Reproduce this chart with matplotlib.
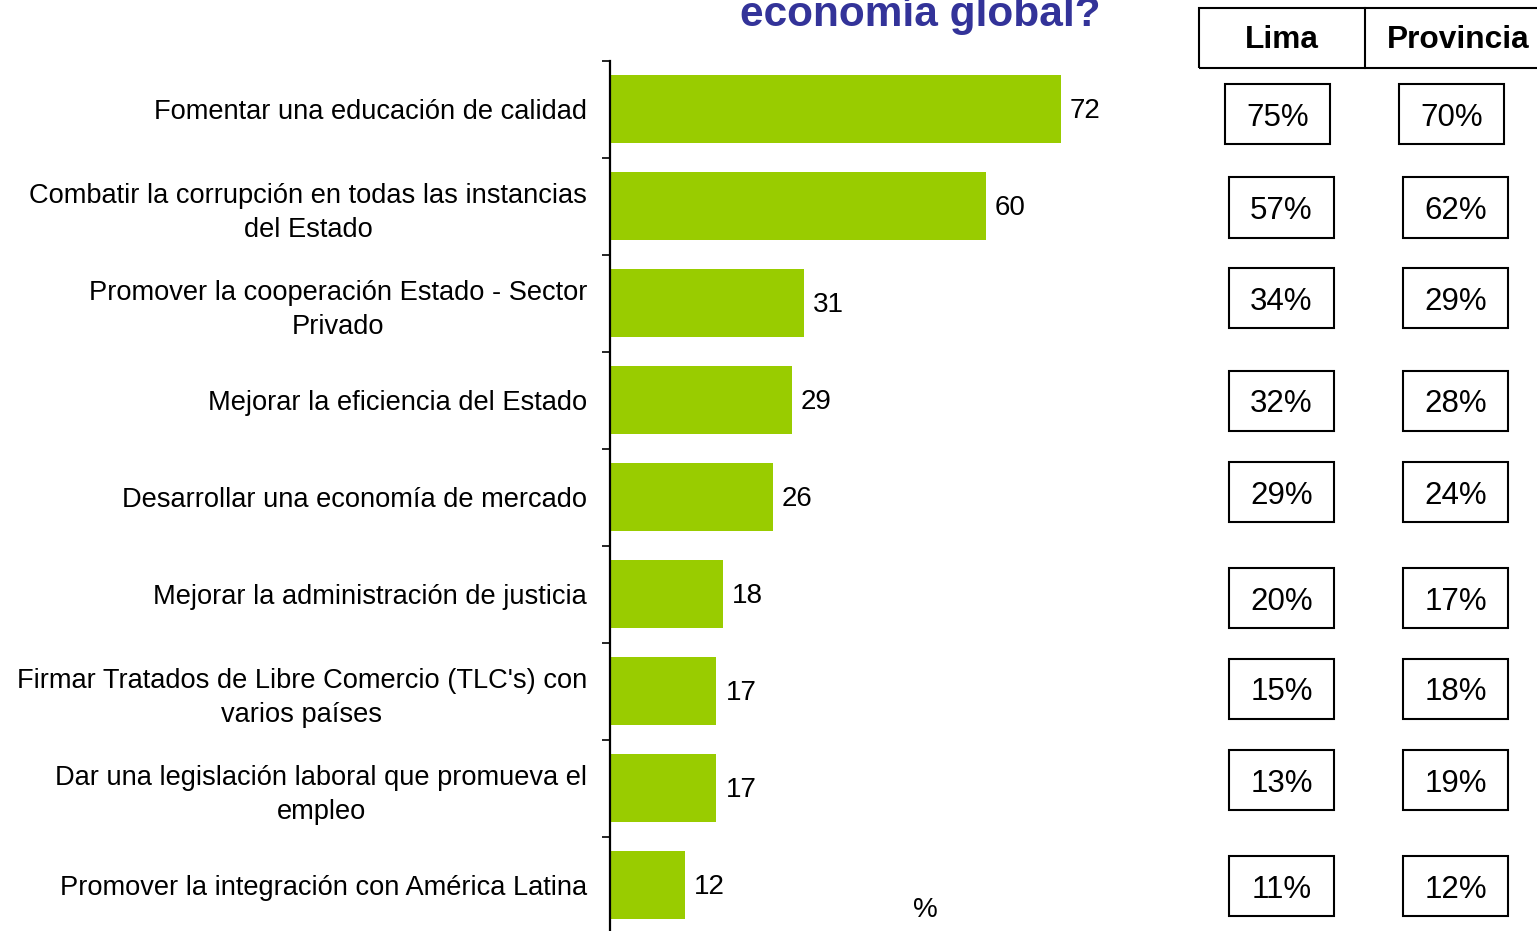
import matplotlib
matplotlib.use("Agg")
import matplotlib.pyplot as plt
from matplotlib.patches import Rectangle
from matplotlib.lines import Line2D

plt.rcParams['font.family'] = ['Liberation Sans', 'DejaVu Sans']

# ---- data ----
categories = [
    "Fomentar una educación de calidad",
    "Combatir la corrupción en todas las instancias\ndel Estado",
    "Promover la cooperación Estado - Sector\nPrivado",
    "Mejorar la eficiencia del Estado",
    "Desarrollar una economía de mercado",
    "Mejorar la administración de justicia",
    "Firmar Tratados de Libre Comercio (TLC's) con\nvarios países",
    "Dar una legislación laboral que promueva el\nempleo",
    "Promover la integración con América Latina",
]
totals = [72, 60, 31, 29, 26, 18, 17, 17, 12]
lima = [75, 57, 34, 32, 29, 20, 15, 13, 11]
provincia = [70, 62, 29, 28, 24, 17, 18, 19, 12]
table_headers = ["Lima", "Provincia"]
title_text = "economía global?"
axis_unit = "%"

# ---- layout ----
W, H = 1537, 931
DPI = 100
fig = plt.figure(figsize=(W / DPI, H / DPI), dpi=DPI)
fig.patch.set_facecolor("white")

def fx(px):
    return px / W

def fy(py):
    return 1 - py / H

ax = fig.add_axes([fx(610), -2.5 / H, fx(1111) - fx(610), 873 / H])
n = len(categories)
ypos = list(range(n))
ax.barh(ypos, totals, height=0.70, color="#99CC00", edgecolor="none")
ax.set_xlim(0, 80)
ax.set_ylim(n - 0.5, -0.5)

for s in ["top", "right", "bottom"]:
    ax.spines[s].set_visible(False)
ax.spines["left"].set_linewidth(1.6)
ax.spines["left"].set_color("black")
ax.set_xticks([])
ax.set_yticks(ypos)
ax.set_yticklabels(categories, fontsize=19.6, color="black")
for lbl in ax.get_yticklabels():
    lbl.set_multialignment("center")
    lbl.set_linespacing(1.42)
ax.tick_params(axis="y", which="major", length=0, pad=16.5)
ax.set_yticks([i - 0.5 for i in range(n + 1)], minor=True)
ax.tick_params(axis="y", which="minor", length=6, width=1.2, direction="out", color="black")

for y, v in zip(ypos, totals):
    ax.text(v + 1.45, y + 0.02, f"{v}", va="center", ha="left", fontsize=20, color="black")

fig.text(fx(925), fy(910), axis_unit, ha="center", va="center", fontsize=20, color="black")

# title (cut off at top in the reference)
fig.text(fx(920), fy(26), title_text, ha="center", va="baseline", fontsize=30.5,
         fontweight="bold", color="#333399")

# ---- side table ----
lw = 1.5
hdr = Rectangle((fx(1199), fy(68)), fx(1545) - fx(1199), fy(8) - fy(68),
                transform=fig.transFigure, fill=False, edgecolor="black", linewidth=lw,
                clip_on=False)
fig.add_artist(hdr)
fig.add_artist(Line2D([fx(1365), fx(1365)], [fy(68), fy(8)], transform=fig.transFigure,
                      color="black", linewidth=lw))
fig.text(fx(1282), fy(40), table_headers[0], ha="center", va="center", fontsize=22.8,
         fontweight="bold", color="black")
fig.text(fx(1458), fy(40), table_headers[1], ha="center", va="center", fontsize=22.8,
         fontweight="bold", color="black")

row_centers = [114, 207.5, 298, 401, 492, 598, 689, 780, 886]
lima_left = [1225] + [1229] * (n - 1)
prov_left = [1399] + [1403] * (n - 1)
bw, bh = 105, 60
for i in range(n):
    yc = row_centers[i]
    for left, val in ((lima_left[i], lima[i]), (prov_left[i], provincia[i])):
        r = Rectangle((fx(left), fy(yc + bh / 2)), bw / W, bh / H,
                      transform=fig.transFigure, fill=False, edgecolor="black",
                      linewidth=lw)
        fig.add_artist(r)
        fig.text(fx(left + bw / 2), fy(yc + 3.5), f"{val}%", ha="center", va="center",
                 fontsize=22.5, color="black")

fig.savefig("out.png", dpi=DPI, facecolor="white")
